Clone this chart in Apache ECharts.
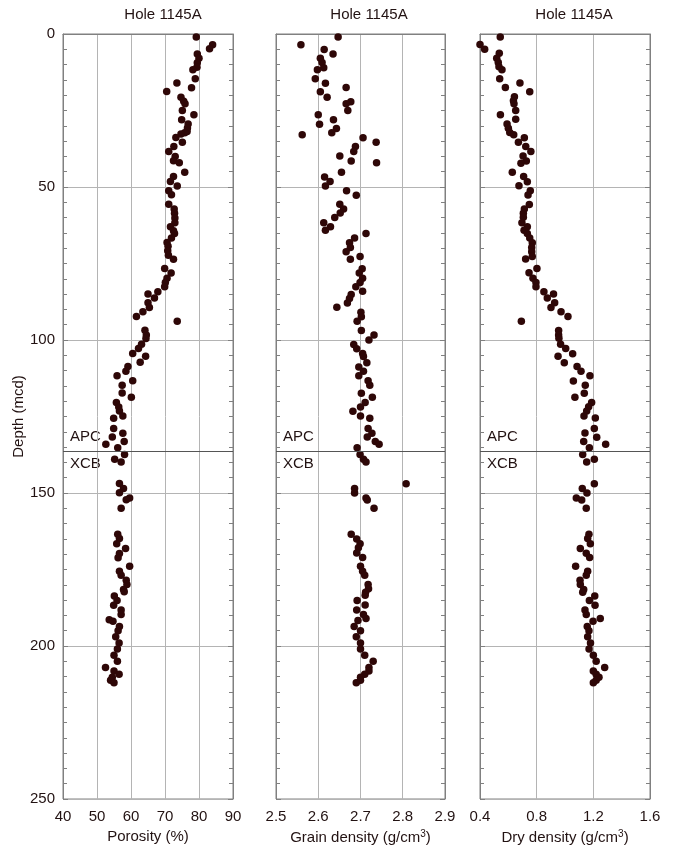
<!DOCTYPE html>
<html>
<head>
<meta charset="utf-8">
<script src="https://cdn.jsdelivr.net/npm/echarts@6/dist/echarts.min.js"></script>
<style>
html,body{margin:0;padding:0;background:#fff;}
#chart{width:680px;height:854px;}
</style>
</head>
<body>
<div id="chart"></div>
<script>
// ---- Data: [value, depth (mcd)] ----
const porosity = [
[79.2,1.0],[84.0,3.5],[83.1,4.8],[79.5,6.5],[80.0,7.9],[79.5,9.4],[79.4,10.9],[78.2,11.7],[78.9,14.6],[73.5,16.0],
[77.8,17.6],[70.5,18.8],[74.7,20.7],[75.5,22.0],[75.9,22.8],[75.1,25.0],[78.5,26.4],[74.9,28.0],[76.8,29.4],[76.6,30.7],
[76.5,31.9],[75.8,32.3],[74.7,32.7],[73.2,33.8],[75.1,35.4],[72.6,36.8],[71.1,38.4],[73.0,40.0],[72.5,41.4],[74.2,42.1],
[75.8,45.2],[72.5,46.6],[71.6,48.2],[73.6,49.7],[71.1,51.2],[71.9,52.5],[71.1,55.6],[72.7,57.2],[72.8,58.6],[72.9,60.1],
[72.9,61.7],[71.6,63.0],[72.5,64.3],[72.8,65.2],[71.9,66.7],[70.6,68.1],[70.9,69.4],[70.8,70.8],[71.0,72.3],[72.5,73.6],
[69.9,76.6],[71.8,78.1],[70.6,79.8],[70.1,81.2],[69.9,82.6],[67.9,84.2],[65.0,85.0],[66.9,86.3],[65.0,87.8],[65.4,89.4],
[63.5,90.8],[61.6,92.3],[73.6,93.9],[64.1,96.8],[64.5,98.4],[64.4,99.5],[63.1,101.4],[62.2,102.8],[60.5,104.4],[64.3,105.3],
[62.7,107.3],[59.1,108.7],[58.5,110.2],[55.9,111.7],[60.5,113.3],[57.4,114.8],[57.4,117.3],[60.1,118.7],[55.7,120.4],[56.4,121.9],
[56.6,123.2],[57.6,124.8],[54.9,125.6],[54.9,128.9],[57.6,130.5],[54.5,131.7],[58.0,133.2],[52.6,134.1],[56.1,135.2],[58.1,137.4],
[55.2,139.0],[57.1,139.9],[56.6,146.9],[57.8,148.5],[56.6,149.9],[59.6,151.6],[58.6,152.2],[57.1,155.0],[56.1,163.5],[56.6,164.9],
[55.8,166.6],[58.4,168.1],[56.6,169.8],[56.2,171.2],[59.6,173.9],[56.6,175.6],[57.1,176.9],[58.6,178.5],[58.8,179.9],[57.8,181.5],
[58.0,182.3],[55.1,183.7],[55.9,185.1],[54.9,186.7],[57.1,188.2],[57.1,189.7],[53.6,191.4],[54.7,191.9],[56.6,193.6],[56.2,195.0],
[55.5,197.0],[56.5,199.0],[56.0,201.0],[55.0,203.0],[56.0,205.0],[52.5,207.0],[55.0,208.2],[56.5,209.2],[54.5,210.2],[54.0,211.2],[55.0,212.0]
];
const grainDensity = [
[2.647,1.0],[2.559,3.5],[2.614,5.1],[2.635,6.5],[2.605,7.9],[2.609,9.3],[2.613,11.0],[2.598,11.7],[2.593,14.6],[2.617,16.1],
[2.666,17.5],[2.605,18.9],[2.621,20.7],[2.677,22.1],[2.666,22.8],[2.670,25.0],[2.600,26.4],[2.636,28.0],[2.603,29.5],[2.643,30.9],
[2.632,32.3],[2.562,32.9],[2.706,33.9],[2.737,35.4],[2.688,36.8],[2.684,38.4],[2.651,39.9],[2.678,41.5],[2.738,42.1],[2.655,45.2],
[2.615,46.7],[2.628,48.2],[2.617,49.7],[2.667,51.2],[2.690,52.7],[2.651,55.6],[2.660,57.2],[2.652,58.5],[2.639,60.0],[2.613,61.7],
[2.629,63.0],[2.617,64.1],[2.713,65.2],[2.686,66.7],[2.674,68.2],[2.676,69.8],[2.666,71.2],[2.699,72.7],[2.676,73.6],[2.704,76.7],
[2.697,78.1],[2.705,79.8],[2.699,81.2],[2.689,82.6],[2.705,84.1],[2.678,85.1],[2.674,86.4],[2.669,87.9],[2.644,89.3],[2.701,90.9],
[2.702,92.4],[2.692,93.9],[2.702,96.9],[2.732,98.4],[2.720,100.0],[2.684,101.5],[2.691,102.9],[2.705,104.4],[2.707,105.4],[2.715,107.4],
[2.696,108.8],[2.707,110.2],[2.696,111.7],[2.718,113.3],[2.722,114.8],[2.702,117.4],[2.728,118.7],[2.711,120.4],[2.700,121.9],[2.682,123.3],
[2.700,124.8],[2.722,125.6],[2.718,128.9],[2.727,130.5],[2.716,131.7],[2.735,133.2],[2.744,134.1],[2.692,135.2],[2.699,137.4],[2.707,139.0],
[2.713,139.9],[2.808,147.0],[2.686,148.5],[2.686,150.0],[2.713,151.6],[2.716,152.3],[2.732,155.0],[2.678,163.5],[2.691,165.0],[2.699,166.6],
[2.695,167.9],[2.691,169.6],[2.705,171.1],[2.700,173.9],[2.705,175.6],[2.710,176.9],[2.718,179.9],[2.719,181.3],[2.712,182.4],[2.711,183.4],
[2.692,185.1],[2.711,186.6],[2.691,188.2],[2.707,189.7],[2.713,191.0],[2.694,191.7],[2.685,193.6],[2.700,195.0],
[2.690,197.0],[2.700,199.0],[2.700,201.0],[2.710,203.0],[2.730,205.0],[2.720,207.0],[2.720,208.2],[2.710,209.2],[2.700,210.2],[2.700,211.2],[2.690,212.0]
];
const dryDensity = [
[0.543,1.0],[0.400,3.4],[0.433,5.0],[0.536,6.3],[0.518,7.9],[0.529,9.3],[0.534,10.7],[0.555,11.7],[0.539,14.6],[0.682,16.0],
[0.579,17.5],[0.751,18.9],[0.643,20.5],[0.636,21.8],[0.640,22.8],[0.652,25.0],[0.544,26.4],[0.652,27.9],[0.591,29.4],[0.600,30.8],
[0.610,32.2],[0.638,32.9],[0.713,33.9],[0.671,35.4],[0.723,36.8],[0.759,38.4],[0.704,39.9],[0.727,41.5],[0.689,42.2],[0.628,45.2],
[0.708,46.6],[0.734,48.3],[0.675,49.6],[0.755,51.2],[0.739,52.6],[0.748,55.7],[0.713,57.2],[0.706,58.6],[0.706,59.9],[0.696,61.7],
[0.734,63.0],[0.711,64.1],[0.734,65.2],[0.751,66.7],[0.769,68.2],[0.765,69.8],[0.765,71.2],[0.769,72.7],[0.722,73.5],[0.802,76.6],
[0.746,78.0],[0.774,79.8],[0.795,81.2],[0.795,82.6],[0.851,84.2],[0.919,85.0],[0.875,86.3],[0.927,87.8],[0.901,89.4],[0.972,90.8],
[1.021,92.3],[0.692,93.9],[0.955,96.9],[0.955,98.4],[0.957,99.4],[0.969,101.4],[1.005,102.8],[1.054,104.5],[0.951,105.3],[0.995,107.4],
[1.085,108.7],[1.113,110.2],[1.176,111.7],[1.059,113.4],[1.143,114.8],[1.136,117.4],[1.070,118.7],[1.188,120.4],[1.167,121.8],[1.153,123.2],
[1.134,124.8],[1.214,125.5],[1.207,128.9],[1.141,130.4],[1.224,131.8],[1.132,133.2],[1.287,134.1],[1.172,135.2],[1.125,137.4],[1.207,139.0],
[1.153,139.9],[1.207,147.0],[1.122,148.5],[1.155,150.0],[1.080,151.6],[1.118,152.3],[1.150,155.0],[1.169,163.5],[1.160,164.9],[1.179,166.6],
[1.108,168.1],[1.150,169.7],[1.174,171.1],[1.075,173.9],[1.160,175.6],[1.150,176.9],[1.106,178.5],[1.108,179.9],[1.132,181.5],[1.125,182.4],
[1.210,183.7],[1.172,185.1],[1.212,186.7],[1.141,188.2],[1.150,189.7],[1.249,191.0],[1.198,191.9],[1.157,193.6],[1.169,195.0],
[1.160,197.0],[1.180,199.0],[1.170,201.0],[1.200,203.0],[1.220,205.0],[1.280,207.0],[1.200,208.2],[1.220,209.2],[1.240,210.2],[1.220,211.2],[1.200,212.0]
];
const panelTitles = ['Hole 1145A','Hole 1145A','Hole 1145A'];
const xNames = ['Porosity (%)','Grain density (g/cm{sup|3})','Dry density (g/cm{sup|3})'];
const xMin = [40, 2.5, 0.4];
const xMax = [90, 2.9, 1.6];
const xInterval = [10, 0.1, 0.4];
const depthMin = 0, depthMax = 250, depthInterval = 50;
const boundaryDepth = 136.3;
const boundaryLabels = ['APC','XCB'];
const yName = 'Depth (mcd)';

// ---- Layout / styles ----
const FONT = '"Liberation Sans", Arial, Helvetica, sans-serif';
const TXT = '#221212';
const FRAME = '#808080';
const GRIDC = '#b4b4b4';
const DOT = '#2e0707';
const grids = [
  {left: 63, top: 34, width: 170, height: 765},
  {left: 276, top: 34, width: 169, height: 765},
  {left: 480, top: 34, width: 170, height: 765}
];
const titleX = [163, 369, 574];
const seriesData = [porosity, grainDensity, dryDensity];

const chart = echarts.init(document.getElementById('chart'), null, {renderer: 'canvas'});

const option = {
  backgroundColor: '#fff',
  animation: false,
  textStyle: {fontFamily: FONT},
  grid: grids.map(g => Object.assign({show: true, borderColor: FRAME, borderWidth: 1, backgroundColor: 'transparent'}, g)),
  xAxis: grids.map((g, i) => ({
    gridIndex: i, type: 'value', position: 'bottom',
    min: xMin[i], max: xMax[i], interval: xInterval[i],
    axisLine: {show: true, lineStyle: {color: FRAME, width: 1}},
    axisTick: {show: false},
    splitLine: {show: true, lineStyle: {color: GRIDC, width: 1}},
    axisLabel: {color: TXT, fontSize: 15, fontFamily: FONT, margin: 10, showMinLabel: true, showMaxLabel: true,
      formatter: v => (i === 0 ? String(Math.round(v)) : v.toFixed(1))},
    name: xNames[i], nameLocation: 'middle', nameGap: 28,
    nameTextStyle: {color: TXT, fontSize: 15, fontFamily: FONT,
      rich: {sup: {fontSize: 10, verticalAlign: 'top', color: TXT, fontFamily: FONT, padding: [0,0,8,0]}}}
  })),
  yAxis: [],
  series: [],
  graphic: []
};

grids.forEach((g, i) => {
  option.yAxis.push({
    gridIndex: i, type: 'value', inverse: true, position: 'left',
    min: depthMin, max: depthMax, interval: depthInterval,
    axisLine: {show: true, lineStyle: {color: FRAME}},
    axisTick: {show: true, inside: true, length: 5, lineStyle: {color: FRAME}},
    minorTick: {show: true, splitNumber: 10, length: 4, lineStyle: {color: FRAME}},
    splitLine: {show: true, lineStyle: {color: GRIDC}},
    axisLabel: {show: i === 0, color: TXT, fontSize: 15, fontFamily: FONT, margin: 8},
    name: i === 0 ? yName : '', nameLocation: 'middle', nameGap: 36,
    nameTextStyle: {color: TXT, fontSize: 15, fontFamily: FONT}
  });
  option.yAxis.push({
    gridIndex: i, type: 'value', inverse: true, position: 'right',
    min: depthMin, max: depthMax, interval: depthInterval,
    axisLine: {show: true, lineStyle: {color: FRAME}},
    axisTick: {show: true, inside: true, length: 5, lineStyle: {color: FRAME}},
    minorTick: {show: true, splitNumber: 10, length: 4, lineStyle: {color: FRAME}},
    splitLine: {show: false},
    axisLabel: {show: false}
  });
  option.series.push({
    type: 'scatter', xAxisIndex: i, yAxisIndex: 2 * i,
    data: seriesData[i], symbol: 'circle', symbolSize: 7.5,
    itemStyle: {color: DOT, opacity: 1},
    markLine: {
      silent: true, symbol: ['none','none'],
      lineStyle: {color: '#555', width: 1, type: 'solid'},
      label: {show: false},
      data: [{yAxis: boundaryDepth}]
    }
  });
  option.graphic.push({
    type: 'text', x: titleX[i], y: 15,
    style: {text: panelTitles[i], font: '15px ' + FONT, fill: TXT, textAlign: 'center', textVerticalAlign: 'middle', verticalAlign: 'middle', align: 'center'}
  });
});

chart.setOption(option);

// place APC / XCB labels relative to the boundary depth
const extra = [];
grids.forEach((g, i) => {
  const yb = chart.convertToPixel({yAxisIndex: 2 * i}, boundaryDepth);
  extra.push({type: 'text', x: g.left + 7, y: yb - 14,
    style: {text: boundaryLabels[0], font: '15px ' + FONT, fill: TXT, textVerticalAlign: 'middle', verticalAlign: 'middle'}});
  extra.push({type: 'text', x: g.left + 7, y: yb + 13,
    style: {text: boundaryLabels[1], font: '15px ' + FONT, fill: TXT, textVerticalAlign: 'middle', verticalAlign: 'middle'}});
});
chart.setOption({graphic: option.graphic.concat(extra)});
</script>
</body>
</html>
